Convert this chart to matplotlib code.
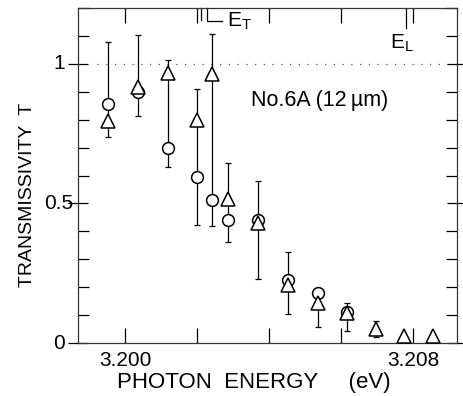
import matplotlib
matplotlib.use("Agg")
import matplotlib.pyplot as plt
import numpy as np
from matplotlib.ticker import MultipleLocator, FixedLocator

plt.rcParams['font.family'] = ['Liberation Sans', 'DejaVu Sans']

# photon energy (eV) of each measured point
energy = [3.19953, 3.20037, 3.20118, 3.20199, 3.20243, 3.20285, 3.20369,
          3.20453, 3.20537, 3.20618, 3.20697, 3.20776, 3.20856]
# transmissivity, circles (first ten points) and triangles (all points)
t_circle = [0.857, 0.900, 0.698, 0.596, 0.513, 0.441, 0.441, 0.226, 0.180, 0.110]
t_triangle = [0.797, 0.916, 0.967, 0.800, 0.963, 0.515, 0.429, 0.208, 0.142,
              0.106, 0.049, 0.025, 0.025]
# error bar ends (first eleven points)
err_lo = [0.738, 0.814, 0.632, 0.423, 0.419, 0.362, 0.228, 0.104, 0.056, 0.044, 0.020]
err_hi = [1.079, 1.104, 1.014, 0.909, 1.107, 0.644, 0.582, 0.327, 0.180, 0.144, 0.079]

E_T = 3.2021
E_L = 3.2078

fig = plt.figure(figsize=(4.63, 3.96), dpi=100)
ax = fig.add_axes([0.1685, 0.1338, 0.8185, 0.846])

n = len(err_lo)
lo = np.array(err_lo)
hi = np.array(err_hi)
mid = (lo + hi) / 2
ax.errorbar(energy[:n], mid, yerr=(hi - lo) / 2, fmt='none', ecolor='black',
            elinewidth=0.9, capsize=2.2, capthick=0.9, zorder=2)

ax.plot(energy[:len(t_circle)], t_circle, 'o', ms=8.5, mfc='white', mec='black',
        mew=1.1, zorder=3)
ax.plot(energy, t_triangle, '^', ms=9.5, mfc='white', mec='black', mew=1.1, zorder=4)

ax.set_xlim(3.198694, 3.209222)
ax.set_ylim(0, 1.2)

# T = 1 reference line
ax.hlines(1.0, 3.19922, 3.209222, color='#555555', lw=0.9, ls=(0, (1, 6)), zorder=1)

# E_T and E_L markers along the top
ax.plot([E_T, E_T], [1.2, 1.157], color='black', lw=0.9, clip_on=False)
ax.plot([E_T + 0.00017, E_T + 0.00017, E_T + 0.0006], [1.2, 1.152, 1.152],
        color='black', lw=0.9, clip_on=False)
ax.text(E_T + 0.00072, 1.152, r'$\mathregular{E_T}$', fontsize=15,
        ha='left', va='center')
ax.plot([E_L, E_L], [1.2, 1.13], color='black', lw=0.9)
ax.text(E_L - 0.0001, 1.075, r'$\mathregular{E_L}$', fontsize=15,
        ha='center', va='center')

ax.text(3.20542, 0.87, u'No.6A (12\u2009\u00b5m)', fontsize=15.5, ha='center',
        va='center')

# x ticks
xt = [3.200, 3.202, 3.204, 3.206, 3.208]
ax.xaxis.set_major_locator(FixedLocator(xt))
ax.set_xticklabels(['3.200', '', '', '', '3.208'], fontsize=15)
ax.tick_params(axis='x', which='major', direction='in', length=11, width=0.9,
               top=True, pad=6)

# y ticks
ax.yaxis.set_major_locator(FixedLocator([0, 0.5, 1.0]))
ax.yaxis.set_minor_locator(MultipleLocator(0.1))
ax.set_yticklabels([])
ax.tick_params(axis='y', which='major', direction='inout', length=15, width=0.9,
               right=True)
ax.tick_params(axis='y', which='minor', direction='in', length=8, width=0.9,
               right=True)
for v, s in zip([0, 0.5, 1.0], ['0', '0.5', '1']):
    ax.text(-0.05, v, s, transform=ax.get_yaxis_transform(), fontsize=15,
            ha='center', va='center')

for sp in ax.spines.values():
    sp.set_linewidth(0.9)
    sp.set_color('#333333')

ax.set_xlabel('PHOTON  ENERGY     (eV)', fontsize=16)
ax.xaxis.set_label_coords(0.464, -0.088)
ax.set_ylabel('TRANSMISSIVITY  T', fontsize=14)
ax.yaxis.set_label_coords(-0.11, 0.442)

fig.savefig('out.png', dpi=100)
